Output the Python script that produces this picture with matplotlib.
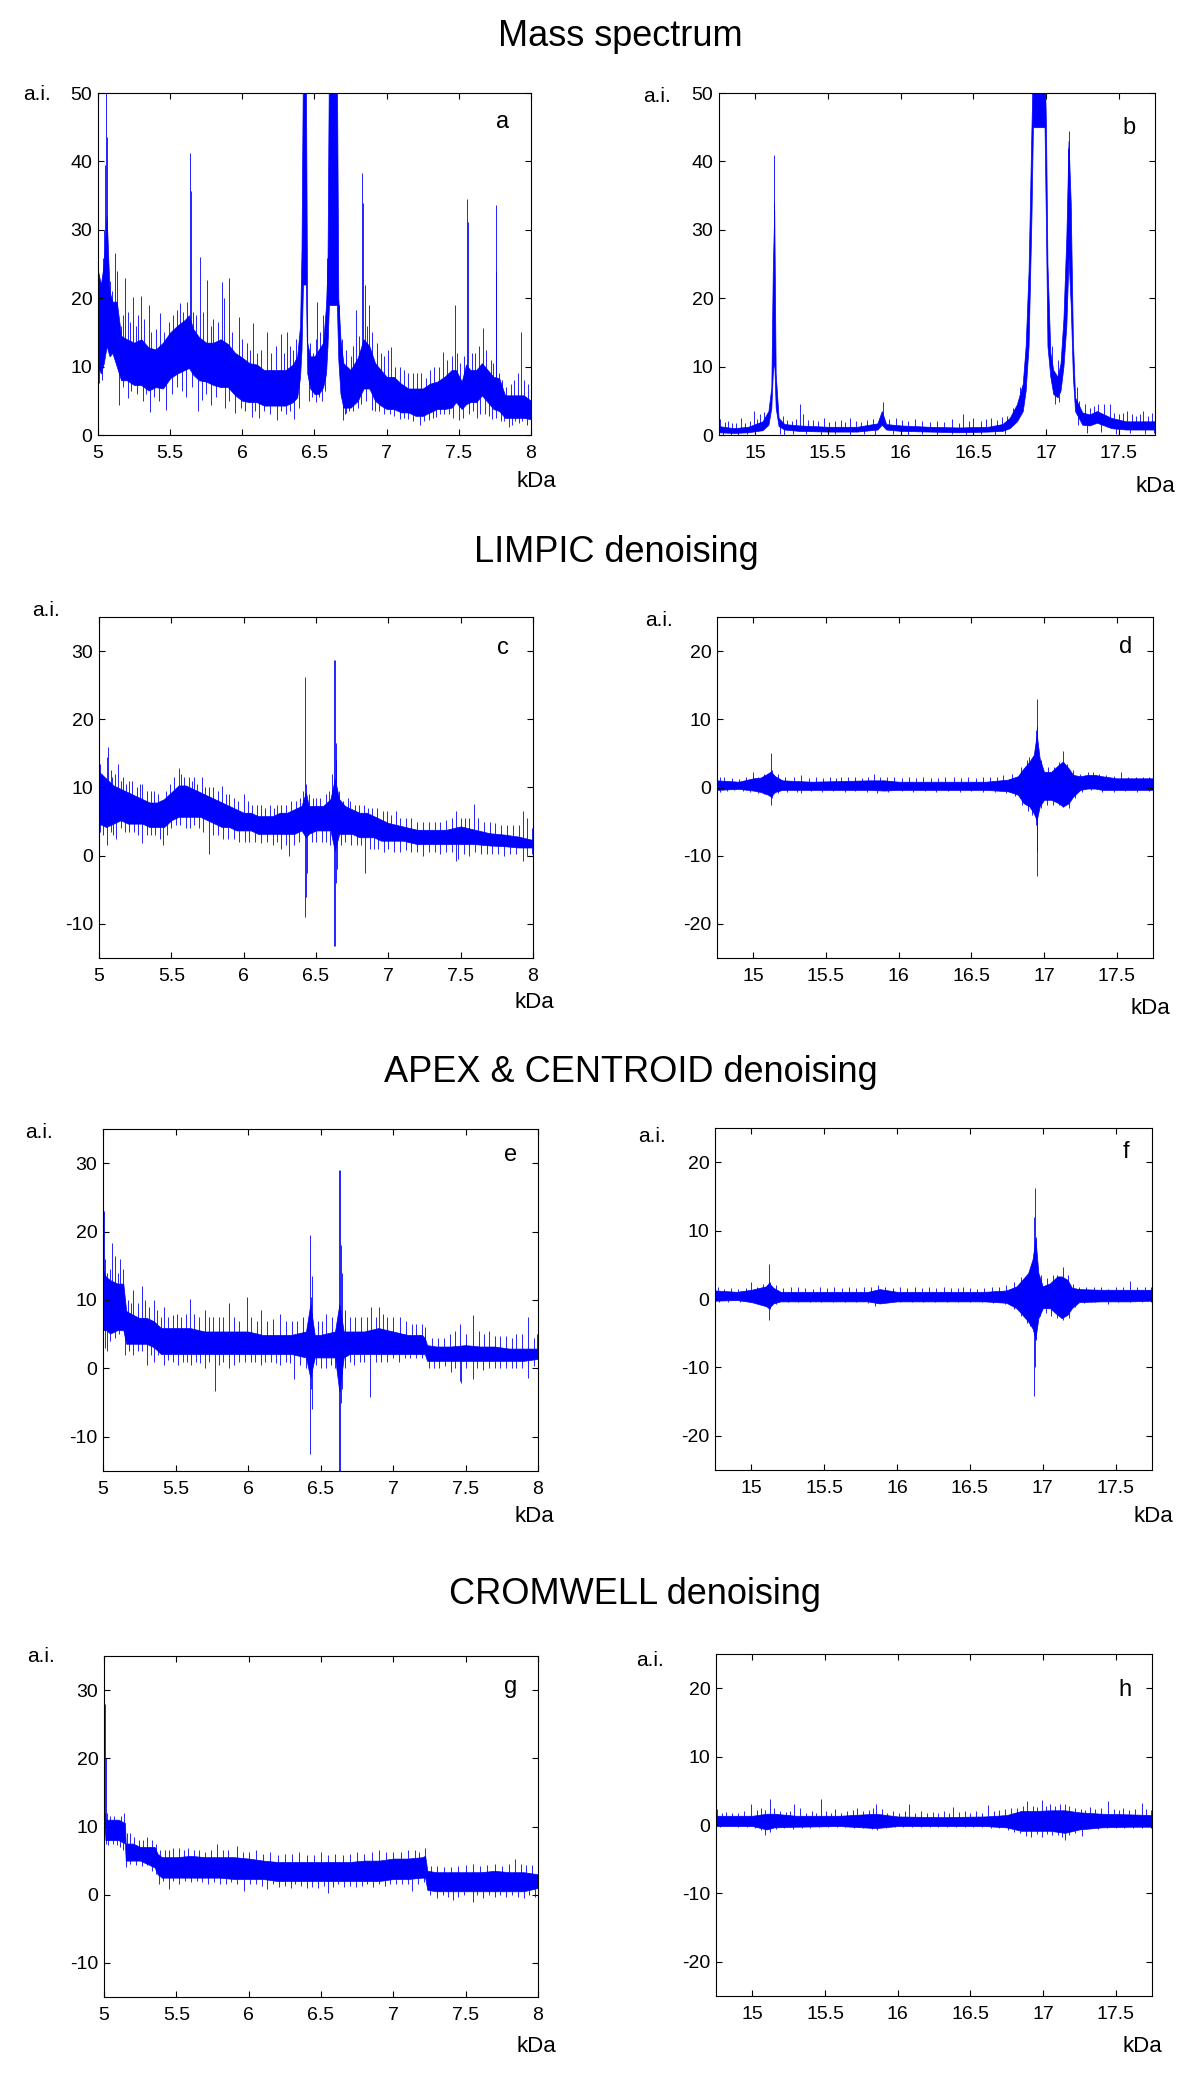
import matplotlib
matplotlib.use('Agg')
import matplotlib.pyplot as plt
import numpy as np

plt.rcParams['font.family'] = ['Liberation Sans', 'DejaVu Sans']
plt.rcParams['axes.unicode_minus'] = False

W, H = 1197, 2075
BLUE = '#0000ff'

# ---- values
# core = (kDa, lower, upper) of the dense part of each trace
# spikes = (kDa, intensity) tips of the single lines that stick out of it

a_core = [(5.00, 10, 24), (5.02, 9, 22), (5.04, 10.5, 25), (5.06, 13, 32), (5.08, 11.5, 21), (5.10, 12, 19.5),
          (5.13, 10, 19.5), (5.16, 8, 14.5), (5.20, 8, 14), (5.25, 7.3, 13.5), (5.30, 7.3, 14), (5.35, 6.5, 12.8),
          (5.40, 7, 12.5), (5.45, 6.8, 13.5), (5.50, 8.3, 15), (5.55, 9, 16), (5.60, 9.5, 16.8), (5.63, 9.8, 17.5),
          (5.66, 8.8, 15.5), (5.70, 8, 14.3), (5.75, 7.8, 13.5), (5.80, 7.3, 13.5), (5.85, 7, 14), (5.90, 7, 13.3),
          (5.95, 5.8, 12), (6.00, 5, 11.3), (6.05, 4.8, 10.5), (6.10, 4.8, 10.3), (6.15, 4.3, 9.5), (6.20, 4.3, 9.5),
          (6.25, 4.3, 9.5), (6.30, 4.3, 9.5), (6.35, 4.8, 10.3), (6.38, 5.5, 11.5), (6.40, 8.5, 16), (6.41, 12.5, 27),
          (6.42, 22, 55), (6.44, 22, 55), (6.45, 9, 13.5), (6.47, 6.8, 11.5), (6.50, 6, 11.5), (6.53, 6, 12.5),
          (6.56, 7, 13.5), (6.58, 9, 19), (6.59, 13, 25), (6.60, 19, 55), (6.655, 19, 55), (6.665, 11, 20),
          (6.68, 6, 14), (6.70, 4, 10.5), (6.75, 4, 9.5), (6.80, 5, 11.3), (6.84, 6.8, 14), (6.88, 6.8, 13),
          (6.92, 5, 10.5), (6.96, 4.3, 9.5), (7.00, 3.8, 8.5), (7.05, 3.8, 8.5), (7.10, 3.3, 7.5), (7.15, 3.3, 6.8),
          (7.20, 2.8, 6.8), (7.25, 2.8, 6.8), (7.30, 3.3, 7.5), (7.35, 3.8, 7.8), (7.40, 3.8, 8.5), (7.45, 4, 9.5),
          (7.48, 4.8, 9.5), (7.52, 3.8, 7.8), (7.55, 4.5, 10.3), (7.58, 4.8, 9.5), (7.62, 4.8, 9.5), (7.66, 5.8, 10.5),
          (7.70, 4.8, 9.5), (7.74, 3.8, 8.5), (7.78, 3.5, 8.3), (7.82, 2.5, 5.8), (7.86, 2.5, 5.8), (7.90, 2.5, 5.8),
          (7.95, 2.5, 5.8), (8.00, 2.3, 5)]
a_spikes = [(5.00, 28), (5.037, 25.9), (5.045, 30), (5.05, 39.5), (5.058, 50), (5.065, 43.5), (5.085, 22.5),
            (5.10, 21), (5.12, 26.6), (5.135, 24), (5.16, 16), (5.175, 17.5), (5.19, 23), (5.21, 18),
            (5.225, 16.5), (5.24, 20.2), (5.26, 16), (5.28, 17.5), (5.30, 20.3), (5.32, 17), (5.35, 19),
            (5.37, 15), (5.40, 15.5), (5.43, 17.9), (5.46, 15), (5.49, 16.5), (5.52, 17.5), (5.545, 18.3),
            (5.57, 19.3), (5.59, 18), (5.62, 19.5), (5.64, 41.2), (5.645, 35.6), (5.66, 18), (5.68, 17.5),
            (5.71, 26), (5.73, 18), (5.757, 22.7), (5.78, 16), (5.80, 17), (5.83, 16.5), (5.857, 22.4),
            (5.875, 20), (5.91, 22.9), (5.93, 15), (5.98, 17.3), (6.00, 14), (6.03, 13.5), (6.05, 12.5),
            (6.076, 16.4), (6.10, 12), (6.13, 12.5), (6.17, 15.1), (6.20, 12), (6.23, 13), (6.27, 14.8),
            (6.29, 12), (6.31, 15), (6.33, 13), (6.35, 12.5), (6.37, 14), (6.41, 27.3), (6.47, 13.5),
            (6.49, 12), (6.51, 14), (6.52, 19.5), (6.54, 15), (6.56, 17.5), (6.585, 25.9), (6.67, 19),
            (6.69, 14), (6.72, 12.5), (6.75, 11.5), (6.77, 13), (6.79, 18.3), (6.81, 14.5), (6.83, 38.3),
            (6.835, 33.9), (6.85, 21.9), (6.865, 16), (6.88, 19), (6.90, 15), (6.93, 13.5), (6.96, 12),
            (6.98, 11.5), (7.01, 12.4), (7.03, 12.9), (7.06, 10), (7.09, 10), (7.12, 9.5), (7.15, 9),
            (7.18, 9), (7.21, 9), (7.24, 9), (7.27, 8.3), (7.30, 9.5), (7.33, 10), (7.36, 10), (7.39, 12.2),
            (7.42, 11), (7.45, 11.5), (7.47, 19), (7.49, 12), (7.51, 10.5), (7.535, 11.5), (7.56, 34.5),
            (7.565, 31.2), (7.59, 12), (7.615, 12), (7.64, 13), (7.67, 15.6), (7.69, 12.5), (7.72, 11),
            (7.74, 10.5), (7.758, 24), (7.76, 33.6), (7.78, 9), (7.80, 8), (7.83, 7), (7.86, 7.5), (7.885, 8),
            (7.91, 9), (7.93, 15.1), (7.95, 8), (7.98, 7.5),
            (5.01, 7.6), (5.03, 8), (5.148, 4.4), (5.17, 7), (5.21, 5.4), (5.23, 6.5), (5.27, 6), (5.31, 5),
            (5.33, 6), (5.36, 3.4), (5.39, 5.5), (5.42, 5), (5.47, 3.6), (5.51, 6), (5.55, 7), (5.58, 6.5),
            (5.61, 5.6), (5.65, 7), (5.69, 3.5), (5.72, 5.1), (5.75, 6), (5.78, 4.4), (5.82, 5.5), (5.88, 4),
            (5.91, 5), (5.95, 3.2), (5.99, 4), (6.02, 3.5), (6.065, 2.7), (6.09, 3.5), (6.115, 2.5),
            (6.15, 3.5), (6.19, 3), (6.24, 2.2), (6.27, 3.5), (6.30, 3), (6.33, 3.5), (6.36, 2.3), (6.39, 4),
            (6.46, 5), (6.48, 5.5), (6.51, 4.8), (6.53, 5.5), (6.55, 5), (6.57, 6.5), (6.70, 2.2), (6.71, 3),
            (6.72, 3.2), (6.74, 3.5), (6.77, 3.5), (6.80, 4), (6.82, 4.5), (6.86, 5), (6.895, 3.6),
            (6.92, 3.5), (6.95, 3.5), (6.98, 3), (7.02, 3), (7.05, 2.8), (7.09, 2.3), (7.12, 2.5), (7.15, 2.3),
            (7.18, 2), (7.23, 1.5), (7.26, 2), (7.29, 2.2), (7.32, 2.5), (7.345, 2.6), (7.37, 3), (7.40, 3),
            (7.43, 3), (7.46, 2.5), (7.50, 2.2), (7.53, 2.5), (7.57, 3), (7.60, 3.5), (7.625, 2.5), (7.65, 3),
            (7.68, 3), (7.71, 2.8), (7.73, 2.4), (7.76, 2.5), (7.79, 2), (7.81, 2), (7.845, 1.2), (7.87, 1.5),
            (7.89, 2), (7.92, 1.7), (7.94, 2), (7.97, 1.5), (8.00, 2)]

b_core = [(14.75, 0.4, 1.3), (14.85, 0.3, 1.0), (14.95, 0.4, 1.2), (15.05, 0.7, 2), (15.09, 1.5, 3.5),
          (15.11, 4, 7), (15.12, 9, 24), (15.13, 11, 33), (15.14, 4, 9), (15.16, 1.3, 2.5), (15.20, 0.8, 1.6),
          (15.30, 0.6, 1.4), (15.50, 0.5, 1.2), (15.70, 0.5, 1.2), (15.84, 0.8, 1.7), (15.87, 1.5, 3.5),
          (15.90, 0.8, 1.6), (16.00, 0.6, 1.4), (16.20, 0.5, 1.2), (16.40, 0.4, 1.1), (16.60, 0.5, 1.2),
          (16.70, 0.6, 1.6), (16.75, 1.0, 2.5), (16.80, 2, 4.5), (16.84, 3.5, 7.5), (16.86, 6.5, 13),
          (16.88, 13, 24), (16.90, 32, 45), (16.91, 45, 55), (16.99, 45, 55), (17.00, 30, 45), (17.01, 13, 25),
          (17.03, 8.5, 12), (17.05, 6, 9.5), (17.08, 5.5, 8.5), (17.10, 6.5, 10.5), (17.12, 10, 17),
          (17.14, 16, 29), (17.155, 26, 43), (17.17, 19, 34), (17.185, 8.5, 14), (17.20, 3.5, 5.5),
          (17.25, 1.5, 3.3), (17.30, 1.4, 3), (17.35, 1.8, 3.5), (17.40, 1.4, 3), (17.45, 1, 2.5),
          (17.55, 0.8, 2), (17.65, 0.8, 2), (17.75, 0.8, 2)]
b_spikes = [(14.76, 2.3), (14.79, 1.9), (14.81, 2.0), (14.84, 1.7), (14.87, 1.8), (14.90, 2.5), (14.93, 1.7),
            (14.96, 2.0), (14.99, 3.5), (15.01, 2.3), (15.03, 3), (15.06, 3.3), (15.125, 41), (15.13, 34),
            (15.19, 2.8), (15.22, 2.2), (15.25, 2), (15.28, 2.4), (15.31, 4.5), (15.33, 3), (15.36, 2.2),
            (15.40, 2.2), (15.43, 2.0), (15.47, 2.5), (15.51, 1.9), (15.55, 2.0), (15.59, 2.2), (15.62, 1.9),
            (15.65, 2.5), (15.69, 2.0), (15.73, 1.9), (15.77, 2.2), (15.81, 2.4), (15.88, 4.8), (15.92, 2.3),
            (15.97, 2.5), (16.01, 2.2), (16.05, 2.0), (16.10, 2.3), (16.15, 2.0), (16.20, 1.9), (16.25, 2.0),
            (16.30, 1.9), (16.35, 2.3), (16.40, 1.8), (16.43, 3), (16.47, 2.0), (16.50, 2.5), (16.55, 2.0),
            (16.59, 2.3), (16.62, 2.5), (16.66, 2.2), (16.70, 2.6), (16.73, 2.8), (16.77, 4), (16.82, 7),
            (16.88, 18), (17.04, 13), (17.085, 11), (17.14, 23.5), (17.15, 42), (17.16, 44.5), (17.21, 7),
            (17.23, 5), (17.27, 4.5), (17.30, 4), (17.33, 4.2), (17.36, 4.5), (17.40, 4.5), (17.44, 4.5),
            (17.47, 3.2), (17.50, 3), (17.53, 3.2), (17.56, 3.5), (17.59, 3), (17.62, 2.8), (17.65, 3),
            (17.67, 3.5), (17.70, 2.8), (17.73, 3.2),
            (14.78, 0), (14.83, 0.05), (14.88, 0), (14.94, 0.1), (15.00, 0.1), (15.17, 0.2), (15.20, 0),
            (15.26, 0.1), (15.35, 0.1), (15.45, 0), (15.55, 0.1), (15.65, 0), (15.75, 0.1), (15.82, 0),
            (15.95, 0.1), (16.05, 0), (16.15, 0.1), (16.25, 0), (16.35, 0.1), (16.45, 0), (16.55, 0.1),
            (16.65, 0), (16.72, 0.1), (17.06, 4.5), (17.09, 4.8), (17.22, 1.5), (17.28, 0.3), (17.38, 0.5),
            (17.48, 0.2), (17.58, 0.3), (17.68, 0.2), (17.74, 0.3)]

c_core = [(5.00, 4.7, 12.3), (5.05, 4.2, 11.3), (5.10, 4.7, 10.3), (5.15, 5.2, 9.8), (5.20, 4.7, 9.3),
          (5.25, 4.7, 8.8), (5.30, 4.7, 8.3), (5.35, 4.2, 7.8), (5.40, 4.2, 7.8), (5.45, 4.2, 8.3), (5.50, 5.2, 9.3),
          (5.55, 5.7, 10.3), (5.60, 5.7, 10.3), (5.65, 5.7, 9.8), (5.70, 5.7, 9.3), (5.75, 5.2, 8.8), (5.80, 4.7, 8.3),
          (5.85, 4.2, 7.8), (5.90, 4.2, 7.3), (5.95, 3.7, 6.8), (6.00, 3.7, 6.3), (6.05, 3.7, 6.3), (6.10, 3.2, 5.8),
          (6.15, 3.2, 5.8), (6.20, 3.2, 5.8), (6.25, 3.2, 6.3), (6.30, 3.2, 6.3), (6.35, 3.2, 6.8), (6.40, 3.7, 7.3),
          (6.43, 2.7, 9.3), (6.45, 3.2, 7.3), (6.50, 3.7, 7.3), (6.55, 3.7, 7.3), (6.60, 3.7, 8.3), (6.63, 0.7, 11.3),
          (6.66, 3.2, 8.3), (6.70, 3.2, 7.3), (6.75, 3.2, 6.8), (6.80, 2.7, 6.3), (6.85, 2.7, 6.3), (6.90, 2.7, 5.8),
          (6.95, 2.2, 5.3), (7.00, 2.2, 4.8), (7.10, 2.2, 4.3), (7.20, 1.7, 3.8), (7.30, 1.7, 3.8), (7.40, 1.7, 3.8),
          (7.50, 1.7, 4.3), (7.60, 1.7, 3.8), (7.70, 1.5, 3.3), (7.80, 1.4, 3.1), (7.90, 1.2, 2.8), (8.00, 1.2, 2.3)]
c_spikes = [(5.005, 13.5), (5.02, 12), (5.04, 11), (5.055, 14.5), (5.065, 16), (5.08, 12.5), (5.09, 11.5),
            (5.11, 12), (5.13, 13.5), (5.15, 11), (5.165, 11.5), (5.19, 10.5), (5.21, 11), (5.23, 11),
            (5.26, 10), (5.28, 10.5), (5.30, 10.5), (5.33, 9.5), (5.36, 9.5), (5.38, 9.5), (5.41, 9),
            (5.46, 9.5), (5.49, 10.5), (5.52, 11.5), (5.55, 12.8), (5.57, 12), (5.59, 11.5), (5.62, 11.5),
            (5.64, 11), (5.66, 11.5), (5.68, 10.5), (5.71, 11.5), (5.73, 10), (5.76, 10), (5.79, 10),
            (5.82, 9.5), (5.85, 10.2), (5.88, 9), (5.90, 9), (5.93, 8.5), (5.96, 8), (6.00, 9), (6.03, 8),
            (6.06, 7.5), (6.09, 7.5), (6.12, 7.5), (6.15, 7), (6.18, 7.5), (6.21, 7), (6.23, 7.5), (6.26, 7.5),
            (6.29, 7.5), (6.33, 8), (6.36, 8), (6.39, 8.5), (6.41, 9.5), (6.425, 26.2), (6.43, 10.5),
            (6.45, 9), (6.48, 8.5), (6.50, 8.5), (6.53, 8.5), (6.57, 9), (6.59, 9.5), (6.61, 12),
            (6.625, 28.7), (6.63, 28.7), (6.635, 16.5), (6.64, 14), (6.66, 9.5), (6.69, 8), (6.72, 8.5),
            (6.735, 8), (6.77, 7.5), (6.80, 7.5), (6.83, 7.5), (6.86, 7), (6.89, 7), (6.92, 7), (6.96, 6.5),
            (6.99, 6.5), (7.02, 6), (7.05, 6.5), (7.08, 5.5), (7.12, 5.5), (7.16, 5.5), (7.20, 5), (7.24, 5),
            (7.28, 5), (7.32, 5), (7.36, 5), (7.40, 5.2), (7.44, 5.5), (7.47, 6.5), (7.50, 5.5), (7.53, 5.5),
            (7.56, 5.5), (7.59, 7.6), (7.62, 5.5), (7.66, 5), (7.70, 5), (7.74, 4.8), (7.78, 4.5), (7.82, 4.5),
            (7.86, 4.5), (7.90, 4.5), (7.93, 6.5), (7.96, 5.5), (7.99, 4),
            (5.01, 3.5), (5.03, 3), (5.057, 1.6), (5.08, 3.5), (5.10, 3), (5.12, 2.4), (5.15, 4), (5.18, 3.5),
            (5.21, 3.5), (5.24, 3.5), (5.27, 3), (5.30, 1.8), (5.33, 3), (5.36, 3), (5.39, 3), (5.42, 2.5),
            (5.44, 1.6), (5.47, 3), (5.50, 4), (5.53, 4.5), (5.56, 4.5), (5.60, 4), (5.63, 4), (5.66, 4.5),
            (5.69, 4), (5.72, 3.5), (5.76, 0.3), (5.79, 3), (5.82, 3), (5.86, 2.5), (5.89, 2.5), (5.93, 2.5),
            (5.97, 2), (6.01, 2), (6.04, 2), (6.08, 2), (6.12, 1.8), (6.16, 2), (6.20, 1.5), (6.23, 2),
            (6.26, 1.0), (6.29, 1.5), (6.31, -0.1), (6.35, 1.5), (6.38, 2), (6.425, -9), (6.43, -6),
            (6.44, -2.5), (6.47, 2), (6.50, 2), (6.54, 2), (6.57, 2), (6.60, 1.5), (6.625, -13.3),
            (6.63, -13.3), (6.635, -4), (6.645, -2), (6.67, 1.5), (6.70, 2), (6.74, 1.5), (6.78, 1.5),
            (6.81, 1.5), (6.84, -2.5), (6.87, 1), (6.90, 1), (6.93, 1), (6.97, 0.5), (7.00, 1), (7.04, 0.5),
            (7.08, 0.5), (7.12, 0.8), (7.16, 0.5), (7.20, 0.5), (7.24, 0), (7.28, 0.5), (7.32, 0.5),
            (7.36, 0.3), (7.40, 0.5), (7.44, 0.5), (7.47, -0.8), (7.48, -0.5), (7.52, 0.3), (7.56, 0),
            (7.60, 0.5), (7.64, 0.3), (7.68, 0.3), (7.72, 0.3), (7.76, 0.3), (7.80, 0), (7.84, 0.3),
            (7.88, 0.3), (7.93, -0.8), (7.96, 0), (7.99, 0.3)]

d_core = [(14.75, -0.35, 1.05), (14.90, -0.2, 0.85), (15.00, -0.45, 1.35), (15.05, -0.65, 1.45),
          (15.10, -1.05, 2.05), (15.12, -1.35, 2.35), (15.15, -0.65, 1.65), (15.20, -0.35, 1.05),
          (15.40, -0.35, 0.85), (15.60, -0.35, 0.95), (15.80, -0.35, 1.05), (15.90, -0.45, 1.05),
          (16.00, -0.35, 0.85), (16.20, -0.35, 0.85), (16.40, -0.35, 0.85), (16.60, -0.35, 0.85),
          (16.75, -0.55, 1.15), (16.82, -1.05, 1.65), (16.86, -2.3, 2.8), (16.90, -2.8, 3.8), (16.93, -3.8, 4.8),
          (16.95, -4.8, 7.8), (16.97, -2.8, 4.3), (17.00, -1.8, 2.3), (17.05, -1.8, 2.3), (17.10, -2.3, 3.3),
          (17.13, -2.8, 3.8), (17.17, -2.3, 2.8), (17.20, -1.35, 1.85), (17.25, -0.35, 1.65), (17.30, -0.15, 1.85),
          (17.35, -0.15, 1.85), (17.40, -0.35, 1.65), (17.50, -0.35, 1.35), (17.60, -0.35, 1.35),
          (17.75, -0.35, 1.35)]
d_spikes = [(14.77, 1.6), (14.80, 1.5), (14.85, 1.4), (14.90, 1.3), (14.95, 1.5), (15.00, 2.3), (15.03, 1.6),
            (15.07, 2), (15.12, 5.1), (15.13, 2.5), (15.17, 2.0), (15.22, 1.6), (15.28, 1.5), (15.33, 1.8),
            (15.38, 1.4), (15.43, 1.5), (15.48, 1.4), (15.53, 1.5), (15.57, 1.4), (15.60, 1.6), (15.65, 1.5),
            (15.70, 1.6), (15.75, 1.4), (15.79, 1.5), (15.83, 2.0), (15.87, 1.6), (15.92, 1.6), (15.97, 1.5),
            (16.02, 1.4), (16.07, 1.5), (16.12, 1.4), (16.17, 1.5), (16.22, 1.4), (16.27, 1.4), (16.32, 1.5),
            (16.38, 1.5), (16.43, 1.4), (16.48, 1.5), (16.53, 1.4), (16.58, 1.5), (16.63, 1.5), (16.68, 1.6),
            (16.72, 1.8), (16.78, 2), (16.84, 3), (16.88, 4), (16.90, 4.5), (16.945, 8.5), (16.95, 13),
            (16.955, 9), (16.98, 4), (17.03, 3), (17.07, 3), (17.10, 3.8), (17.13, 5.4), (17.16, 3.5),
            (17.20, 2.5), (17.25, 2.0), (17.30, 2.2), (17.34, 2.2), (17.38, 2.0), (17.43, 1.8), (17.48, 1.7),
            (17.53, 2.2), (17.58, 1.6), (17.63, 1.6), (17.68, 1.6), (17.72, 1.6),
            (14.77, -0.6), (14.82, -0.5), (14.87, -0.4), (14.93, -0.5), (14.98, -0.6), (15.03, -0.8),
            (15.07, -1), (15.12, -2.6), (15.13, -1.5), (15.17, -0.8), (15.23, -0.6), (15.30, -0.6),
            (15.33, -0.8), (15.40, -0.5), (15.47, -0.6), (15.55, -0.5), (15.63, -0.6), (15.70, -0.5),
            (15.78, -0.6), (15.85, -0.8), (15.93, -0.6), (16.02, -0.5), (16.10, -0.6), (16.18, -0.5),
            (16.26, -0.6), (16.34, -0.5), (16.42, -0.6), (16.50, -0.5), (16.58, -0.6), (16.66, -0.6),
            (16.74, -0.8), (16.80, -1.2), (16.85, -2.5), (16.89, -3.5), (16.92, -4), (16.945, -5.5),
            (16.95, -13), (16.955, -9.5), (16.98, -3), (17.02, -2.5), (17.06, -2.5), (17.10, -2.5),
            (17.13, -2.8), (17.17, -3), (17.21, -1.5), (17.26, -0.7), (17.32, -0.4), (17.40, -0.6),
            (17.48, -0.6), (17.56, -0.5), (17.64, -0.6), (17.72, -0.5)]

e_core = [(5.00, 5.6, 14.5), (5.02, 5.6, 13.4), (5.05, 5.1, 12.9), (5.10, 5.6, 12.4), (5.14, 5.6, 12.4),
          (5.16, 3.6, 8.4), (5.20, 3.6, 7.9), (5.25, 3.6, 7.4), (5.30, 3.6, 7.4), (5.35, 3.1, 6.9), (5.40, 2.1, 5.9),
          (5.45, 2.1, 5.9), (5.50, 2.1, 5.9), (5.60, 2.1, 5.9), (5.70, 2.1, 5.4), (5.80, 2.1, 5.4), (5.90, 2.1, 5.4),
          (6.00, 2.1, 5.4), (6.10, 2.1, 4.9), (6.20, 2.1, 4.9), (6.30, 2.1, 4.9), (6.40, 1.6, 5.4), (6.43, -1.4, 9.4),
          (6.46, 1.6, 4.9), (6.50, 1.6, 4.9), (6.60, 1.6, 5.4), (6.63, -3.4, 9.4), (6.66, 1.6, 5.4), (6.70, 2.1, 5.4),
          (6.80, 2.1, 5.4), (6.90, 2.1, 5.9), (7.00, 2.1, 5.4), (7.10, 2.1, 4.9), (7.20, 2.1, 4.9), (7.22, 2.1, 4.4),
          (7.235, 1.1, 3.4), (7.30, 1.1, 3.2), (7.40, 1.1, 3.2), (7.50, 1.1, 3.4), (7.60, 1.1, 3.2), (7.70, 1.1, 3.2),
          (7.80, 1.1, 2.9), (7.90, 1.1, 2.9), (8.00, 1.4, 2.9)]
e_spikes = [(5.003, 33.5), (5.01, 23), (5.015, 16), (5.03, 14), (5.045, 14.5), (5.06, 18.3), (5.08, 16.5),
            (5.10, 14), (5.12, 16), (5.14, 14.5), (5.17, 10), (5.19, 9.5), (5.21, 11.5), (5.24, 9.5),
            (5.27, 12), (5.29, 10), (5.32, 9), (5.35, 10), (5.37, 8.5), (5.40, 7.5), (5.42, 9), (5.45, 7.5),
            (5.48, 7.8), (5.51, 8), (5.54, 7.5), (5.57, 8), (5.60, 10.2), (5.63, 8), (5.66, 7.5), (5.70, 8.5),
            (5.73, 7.5), (5.76, 7.5), (5.80, 7.5), (5.83, 7.5), (5.87, 9.5), (5.90, 7.5), (5.94, 7),
            (5.99, 10.5), (6.02, 7.5), (6.06, 7), (6.09, 8.5), (6.13, 7), (6.17, 7.2), (6.22, 8), (6.26, 7),
            (6.30, 7), (6.34, 7), (6.38, 7.5), (6.43, 19.5), (6.435, 10.5), (6.44, 13.5), (6.48, 7),
            (6.51, 7), (6.54, 8), (6.58, 7.5), (6.63, 29), (6.635, 29), (6.64, 18), (6.645, 14), (6.67, 8.5),
            (6.70, 7.5), (6.74, 7.5), (6.78, 7.5), (6.82, 7.5), (6.85, 9), (6.88, 7.5), (6.90, 9), (6.93, 8),
            (6.96, 7.5), (7.00, 7.5), (7.05, 7.5), (7.09, 7), (7.13, 6.5), (7.16, 6.5), (7.20, 6.5),
            (7.22, 6), (7.27, 4.5), (7.31, 4.5), (7.35, 4.5), (7.39, 5), (7.43, 5.5), (7.46, 6.5), (7.50, 5),
            (7.55, 7.8), (7.59, 5.5), (7.63, 5), (7.66, 5.5), (7.70, 4.8), (7.74, 4.8), (7.78, 4.8),
            (7.82, 4.5), (7.85, 5), (7.89, 5), (7.93, 7.5), (7.97, 4.5), (7.99, 5),
            (5.01, 6), (5.015, 3), (5.03, 2.5), (5.05, 4), (5.08, 4.5), (5.11, 5), (5.15, 2), (5.18, 2.5),
            (5.21, 2), (5.24, 2.5), (5.27, 2.5), (5.30, 0.5), (5.33, 2), (5.35, 1), (5.38, 2), (5.42, 0.5),
            (5.45, 1.2), (5.48, 1), (5.52, 0.5), (5.55, 1), (5.58, 1), (5.61, 0.5), (5.64, 1), (5.67, 0.8),
            (5.70, 0), (5.73, 1), (5.77, -3.3), (5.80, 0.5), (5.83, 1), (5.87, 0), (5.90, 0.5), (5.94, 1),
            (5.98, 1), (6.02, 1), (6.05, 1), (6.09, 0.5), (6.12, 1), (6.16, 1), (6.19, 0.8), (6.22, 0.5),
            (6.26, 1), (6.29, 0.8), (6.32, -1.5), (6.36, 0.5), (6.40, 0), (6.43, -12.5), (6.435, -3),
            (6.44, -6), (6.47, 0.5), (6.50, 0), (6.54, 0), (6.57, 0.5), (6.60, 0), (6.63, -15), (6.635, -15),
            (6.64, -5), (6.645, -3), (6.67, 0), (6.70, 1), (6.73, 0.5), (6.77, 1), (6.80, 1), (6.84, -4.2),
            (6.88, 1), (6.92, 1), (6.96, 1), (7.00, 1.5), (7.04, 1), (7.08, 1.5), (7.12, 1.5), (7.16, 1.5),
            (7.20, 1.5), (7.25, 0), (7.28, 0), (7.32, 0), (7.36, 0.3), (7.40, -0.5), (7.43, 0), (7.46, -1.8),
            (7.47, -2.2), (7.50, 0), (7.55, -1.6), (7.58, 0), (7.62, -0.3), (7.66, 0), (7.70, 0), (7.74, 0),
            (7.78, 0), (7.82, 0), (7.85, 0), (7.89, 0), (7.93, -1.4), (7.97, 0.3)]

f_core = [(14.75, -0.25, 1.25), (14.90, -0.15, 1.05), (15.00, -0.45, 1.35), (15.10, -1.05, 1.85),
          (15.12, -1.35, 2.35), (15.15, -0.65, 1.65), (15.20, -0.35, 1.05), (15.50, -0.35, 1.05),
          (15.80, -0.35, 1.05), (15.88, -0.65, 1.45), (16.00, -0.35, 1.05), (16.30, -0.35, 1.05),
          (16.60, -0.35, 1.05), (16.75, -0.55, 1.25), (16.82, -1.35, 1.85), (16.86, -2.3, 2.8), (16.90, -3.3, 3.8),
          (16.93, -4.3, 5.8), (16.95, -5.8, 8.8), (16.97, -2.8, 3.8), (17.00, -1.35, 1.85), (17.05, -1.35, 2.3),
          (17.10, -2.3, 3.3), (17.13, -2.8, 3.3), (17.17, -2.3, 2.8), (17.20, -1.35, 1.65), (17.25, -0.45, 1.45),
          (17.40, -0.35, 1.35), (17.60, -0.35, 1.35), (17.75, -0.25, 1.35)]
f_spikes = [(14.77, 1.8), (14.81, 1.5), (14.86, 1.6), (14.91, 1.4), (14.96, 1.6), (15.00, 2.5), (15.04, 1.8),
            (15.08, 2.2), (15.12, 5.1), (15.13, 2.5), (15.17, 2.0), (15.22, 1.6), (15.27, 1.8), (15.32, 1.8),
            (15.37, 1.6), (15.42, 1.5), (15.47, 1.7), (15.52, 1.6), (15.57, 1.7), (15.62, 1.6), (15.67, 1.7),
            (15.72, 1.6), (15.77, 1.8), (15.82, 1.8), (15.87, 2.0), (15.92, 1.7), (15.97, 1.6), (16.02, 1.7),
            (16.07, 1.6), (16.12, 1.7), (16.17, 1.6), (16.22, 1.7), (16.27, 1.6), (16.32, 1.7), (16.37, 1.6),
            (16.42, 1.6), (16.45, 1.8), (16.50, 1.6), (16.55, 1.5), (16.60, 1.6), (16.65, 1.7), (16.70, 1.8),
            (16.75, 2), (16.80, 2.5), (16.85, 3.2), (16.91, 4), (16.94, 12), (16.95, 16.2), (16.955, 9),
            (16.99, 3.5), (17.03, 3), (17.07, 3.5), (17.10, 3.5), (17.14, 4.7), (17.17, 3.5), (17.21, 2.2),
            (17.25, 1.8), (17.30, 1.8), (17.35, 1.8), (17.40, 1.7), (17.45, 1.5), (17.50, 1.8), (17.55, 1.7),
            (17.60, 2.6), (17.65, 1.8), (17.70, 1.7), (17.74, 1.8),
            (14.78, -0.5), (14.84, -0.4), (14.92, -0.5), (15.00, -0.5), (15.06, -0.8), (15.12, -3),
            (15.13, -1.5), (15.17, -0.8), (15.25, -0.5), (15.32, -0.5), (15.40, -0.5), (15.48, -0.4),
            (15.56, -0.5), (15.64, -0.5), (15.72, -0.4), (15.80, -0.6), (15.85, -1), (15.93, -0.5),
            (16.02, -0.5), (16.10, -0.4), (16.18, -0.5), (16.26, -0.5), (16.34, -0.4), (16.42, -0.5),
            (16.50, -0.5), (16.58, -0.4), (16.66, -0.6), (16.74, -0.8), (16.80, -1.5), (16.85, -2.5),
            (16.89, -3.5), (16.91, -4), (16.94, -14.2), (16.95, -10), (16.955, -6), (16.98, -2.5),
            (17.02, -2), (17.06, -2.5), (17.10, -2.8), (17.14, -3), (17.18, -2.8), (17.22, -1.2),
            (17.28, -0.6), (17.36, -0.5), (17.45, -0.8), (17.52, -0.5), (17.60, -0.5), (17.68, -0.4),
            (17.74, -0.5)]

g_core = [(5.00, 8.5, 11.5), (5.005, 10, 12), (5.01, 8, 11), (5.05, 8, 11), (5.10, 8, 11), (5.145, 7.5, 10.5),
          (5.15, 5, 7.5), (5.20, 5, 7.5), (5.25, 5, 7), (5.30, 4.5, 7), (5.35, 4, 7), (5.37, 3, 6), (5.40, 2.5, 5.5),
          (5.50, 2.5, 5.5), (5.60, 2.5, 5.7), (5.70, 2.5, 5.5), (5.80, 2.5, 5.5), (5.90, 2.3, 5.5), (6.00, 2.3, 5.3),
          (6.10, 2.3, 5), (6.20, 2, 4.8), (6.30, 2, 4.8), (6.40, 2, 4.8), (6.50, 2, 4.8), (6.60, 2, 4.8),
          (6.70, 2, 4.8), (6.80, 2, 5), (6.90, 2, 5), (7.00, 2.3, 5.3), (7.10, 2.3, 5.3), (7.20, 2.5, 5.5),
          (7.22, 2.5, 5.7), (7.235, 0.7, 3.5), (7.30, 0.5, 3.3), (7.40, 0.5, 3.3), (7.50, 0.5, 3.3), (7.60, 0.5, 3.3),
          (7.70, 0.5, 3.5), (7.80, 0.5, 3.3), (7.90, 0.5, 3.3), (8.00, 1, 3)]
g_spikes = [(5.003, 32), (5.007, 28), (5.012, 20), (5.02, 12), (5.04, 11.5), (5.07, 11.5), (5.09, 11),
            (5.12, 11.5), (5.14, 12), (5.16, 9), (5.18, 9), (5.21, 8.5), (5.24, 8), (5.27, 8), (5.30, 8.5),
            (5.33, 8), (5.36, 7.5), (5.39, 6.5), (5.42, 6.5), (5.45, 6.5), (5.48, 6.8), (5.52, 6.8), (5.55, 6.5),
            (5.58, 6.8), (5.62, 6.5), (5.66, 6.5), (5.70, 6.3), (5.74, 6.5), (5.78, 7.5), (5.82, 6.5),
            (5.86, 6.5), (5.92, 7.2), (5.96, 6.3), (6.00, 6.3), (6.05, 6.5), (6.10, 6), (6.15, 6.2), (6.20, 5.8),
            (6.25, 6), (6.30, 6), (6.35, 6.2), (6.40, 5.8), (6.45, 5.8), (6.50, 6.2), (6.55, 5.8), (6.60, 6),
            (6.65, 5.8), (6.70, 6), (6.75, 6.2), (6.80, 6), (6.85, 6.3), (6.90, 6.5), (6.95, 6.2), (7.00, 6.3),
            (7.05, 6.3), (7.10, 6.5), (7.15, 6.5), (7.18, 6.3), (7.22, 6.8), (7.26, 4.2), (7.30, 4.2),
            (7.35, 4), (7.40, 4), (7.45, 4.2), (7.50, 4.3), (7.55, 4.5), (7.60, 4.2), (7.65, 4.3), (7.70, 4.5),
            (7.75, 4.2), (7.80, 4.5), (7.84, 5.2), (7.88, 4.5), (7.92, 4.3), (7.96, 4.3), (8.00, 4.3),
            (5.015, 7.5), (5.03, 7.3), (5.06, 7.5), (5.09, 7.3), (5.11, 7), (5.13, 6.5), (5.155, 4),
            (5.18, 4.5), (5.22, 4.3), (5.26, 4.2), (5.30, 4.3), (5.33, 3.5), (5.36, 3), (5.38, 1.5), (5.41, 2),
            (5.45, 0.8), (5.48, 2), (5.52, 1.5), (5.56, 2), (5.60, 1.8), (5.64, 2), (5.68, 1.8), (5.72, 1.5),
            (5.76, 1.8), (5.80, 1.5), (5.84, 1.5), (5.88, 1.8), (5.92, 1.5), (5.97, 0.5), (6.01, 1.5),
            (6.05, 1.5), (6.09, 1.3), (6.13, 0.8), (6.17, 1.5), (6.21, 1.2), (6.25, 1.3), (6.29, 1),
            (6.32, 1.5), (6.36, 1.3), (6.40, 1), (6.44, 1.2), (6.48, 1), (6.52, 1.3), (6.55, 0.3), (6.58, 1.2),
            (6.62, 1.5), (6.66, 1.2), (6.70, 1.3), (6.74, 1.2), (6.78, 1.3), (6.82, 1.5), (6.86, 1.2),
            (6.90, 1.5), (6.94, 1.3), (6.98, 1.5), (7.02, 1.5), (7.06, 1.5), (7.10, 1.5), (7.13, 0.5),
            (7.17, 1.5), (7.21, 1.8), (7.25, 0), (7.30, -0.5), (7.34, 0), (7.38, -0.3), (7.41, -0.8),
            (7.45, -0.3), (7.49, 0), (7.55, -1), (7.58, 0), (7.62, -0.5), (7.66, 0), (7.70, -0.3), (7.74, 0),
            (7.78, -0.3), (7.82, 0), (7.86, -0.3), (7.90, -0.5), (7.94, 0), (7.98, -0.3)]

h_core = [(14.75, -0.15, 1.35), (15.00, -0.15, 1.35), (15.10, -0.65, 1.65), (15.15, -0.35, 1.65),
          (15.30, -0.25, 1.35), (15.60, -0.15, 1.35), (15.85, -0.45, 1.65), (16.00, -0.15, 1.25),
          (16.30, -0.15, 1.15), (16.60, -0.15, 1.25), (16.75, -0.35, 1.45), (16.85, -0.85, 2.05),
          (16.95, -0.85, 2.05), (17.05, -0.85, 2.15), (17.15, -1.15, 2.15), (17.25, -0.65, 1.85),
          (17.40, -0.35, 1.65), (17.60, -0.25, 1.55), (17.75, -0.25, 1.45)]
h_spikes = [(14.76, 2.3), (14.79, 1.8), (14.82, 1.9), (14.86, 1.7), (14.90, 1.8), (14.94, 2), (14.99, 3),
            (15.03, 2.2), (15.06, 2.5), (15.09, 2.2), (15.12, 3.8), (15.15, 2.5), (15.19, 2.0), (15.23, 1.9),
            (15.26, 2), (15.29, 3), (15.33, 2.5), (15.37, 1.8), (15.41, 2), (15.44, 1.8), (15.47, 3.8),
            (15.51, 2), (15.54, 1.8), (15.57, 2.3), (15.61, 1.8), (15.65, 2), (15.69, 2.2), (15.72, 2.5),
            (15.76, 2), (15.80, 2.2), (15.83, 2.5), (15.85, 3), (15.89, 2.3), (15.93, 1.8), (15.97, 2),
            (16.01, 1.8), (16.05, 2), (16.08, 3), (16.12, 1.8), (16.16, 2), (16.20, 1.8), (16.24, 1.9),
            (16.28, 1.8), (16.32, 2), (16.35, 1.8), (16.38, 2.7), (16.42, 1.9), (16.46, 2), (16.50, 1.8),
            (16.54, 2), (16.58, 1.8), (16.62, 2.9), (16.66, 2), (16.70, 2.2), (16.74, 2.3), (16.78, 2.5),
            (16.82, 2.5), (16.86, 2.8), (16.89, 3.5), (16.93, 2.8), (16.96, 2.6), (16.99, 3.7), (17.02, 2.8),
            (17.05, 3), (17.08, 2.8), (17.12, 3), (17.15, 3), (17.18, 2.8), (17.22, 2.5), (17.26, 2.3),
            (17.29, 2.2), (17.32, 2.6), (17.36, 2.4), (17.40, 2.5), (17.45, 3.5), (17.49, 2.3), (17.52, 2.2),
            (17.55, 2.5), (17.59, 2.2), (17.63, 2.4), (17.68, 3.2), (17.71, 2.4), (17.74, 2.2),
            (14.78, -0.3), (14.84, -0.2), (14.90, -0.3), (14.96, -0.3), (15.02, -0.4), (15.06, -0.8),
            (15.09, -1.4), (15.12, -1), (15.16, -0.6), (15.22, -0.4), (15.28, -0.6), (15.34, -0.5),
            (15.40, -0.4), (15.46, -0.3), (15.52, -0.3), (15.58, -0.3), (15.64, -0.3), (15.70, -0.4),
            (15.76, -0.4), (15.82, -0.6), (15.86, -0.8), (15.92, -0.4), (15.98, -0.3), (16.04, -0.3),
            (16.10, -0.3), (16.16, -0.3), (16.22, -0.3), (16.28, -0.3), (16.34, -0.3), (16.40, -0.3),
            (16.46, -0.3), (16.52, -0.3), (16.58, -0.3), (16.64, -0.4), (16.70, -0.5), (16.76, -0.8),
            (16.80, -1), (16.84, -1.2), (16.88, -1.6), (16.92, -1.8), (16.96, -1.3), (16.99, -1.8),
            (17.03, -1.3), (17.06, -1.5), (17.10, -1.5), (17.13, -1.8), (17.15, -2.2), (17.18, -1.5),
            (17.22, -1.2), (17.27, -1.6), (17.32, -0.5), (17.38, -0.6), (17.44, -0.5), (17.50, -0.4),
            (17.56, -0.5), (17.62, -0.4), (17.68, -0.5), (17.74, -0.4)]

left_xticks = [5, 5.5, 6, 6.5, 7, 7.5, 8]
left_xlabels = ['5', '5.5', '6', '6.5', '7', '7.5', '8']
right_xticks = [15, 15.5, 16, 16.5, 17, 17.5]
right_xlabels = ['15', '15.5', '16', '16.5', '17', '17.5']

row_titles = ['Mass spectrum', 'LIMPIC denoising', 'APEX & CENTROID denoising', 'CROMWELL denoising']

# letter, core, spikes, axes box px (left, top, w, h), ylim, yticks, a.i. pos, kDa pos, letter pos
panels = [
    ('a', a_core, a_spikes, (98, 93, 433, 342), (0, 50), [0, 10, 20, 30, 40, 50], (23, 95), (536, 482), (503, 122)),
    ('b', b_core, b_spikes, (719, 93, 436, 342), (0, 50), [0, 10, 20, 30, 40, 50], (643, 97), (1155, 487), (1129, 128)),
    ('c', c_core, c_spikes, (99, 617, 434, 341), (-15, 35), [-10, 0, 10, 20, 30], (32, 610), (534, 1002), (503, 648)),
    ('d', d_core, d_spikes, (717, 617, 436, 341), (-25, 25), [-20, -10, 0, 10, 20], (645, 620), (1150, 1008), (1126, 647)),
    ('e', e_core, e_spikes, (103, 1129, 435, 342), (-15, 35), [-10, 0, 10, 20, 30], (25, 1132), (534, 1517), (511, 1155)),
    ('f', f_core, f_spikes, (715, 1128, 437, 342), (-25, 25), [-20, -10, 0, 10, 20], (638, 1136), (1153, 1517), (1126, 1152)),
    ('g', g_core, g_spikes, (104, 1656, 434, 341), (-15, 35), [-10, 0, 10, 20, 30], (27, 1657), (536, 2046), (511, 1687)),
    ('h', h_core, h_spikes, (716, 1654, 436, 342), (-25, 25), [-20, -10, 0, 10, 20], (636, 1660), (1142, 2047), (1125, 1690)),
]
title_pos = [(620, 37), (616, 553), (631, 1072), (635, 1595)]


def fx(px):
    return px / W


def fy(py):
    return 1 - py / H


fig = plt.figure(figsize=(W / 100, H / 100), dpi=100)

for i, (letter, core, spikes, box, ylim, yticks, ai_pos, kda_pos, let_pos) in enumerate(panels):
    left, top, w, h = box
    ax = fig.add_axes([fx(left), fy(top + h), w / W, h / H])
    core = np.array(core)
    spikes = np.array(spikes)
    ax.fill_between(core[:, 0], core[:, 1], core[:, 2], color=BLUE, lw=0.5)
    # each spike leaves from the middle of the dense part
    base = np.interp(spikes[:, 0], core[:, 0], (core[:, 1] + core[:, 2]) / 2)
    ax.vlines(spikes[:, 0], np.minimum(base, spikes[:, 1]), np.maximum(base, spikes[:, 1]), color=BLUE, lw=0.6)
    if i % 2 == 0:
        ax.set_xlim(5, 8)
        ax.set_xticks(left_xticks)
        ax.set_xticklabels(left_xlabels)
    else:
        ax.set_xlim(14.75, 17.75)
        ax.set_xticks(right_xticks)
        ax.set_xticklabels(right_xlabels)
    ax.set_ylim(*ylim)
    ax.set_yticks(yticks)
    ax.tick_params(direction='in', top=True, right=True, length=4, width=0.8, labelsize=14)
    ax.tick_params(axis='x', pad=7)
    ax.tick_params(axis='y', pad=4)
    for sp in ax.spines.values():
        sp.set_linewidth(0.8)
    fig.text(fx(ai_pos[0]), fy(ai_pos[1]), 'a.i.', fontsize=15, ha='left', va='center')
    fig.text(fx(kda_pos[0]), fy(kda_pos[1]), 'kDa', fontsize=16, ha='center', va='center')
    fig.text(fx(let_pos[0]), fy(let_pos[1]), letter, fontsize=17, ha='center', va='center')

for t, (tx, ty) in zip(row_titles, title_pos):
    fig.text(fx(tx), fy(ty), t, fontsize=26, ha='center', va='center')

fig.savefig('out.png', dpi=100)
